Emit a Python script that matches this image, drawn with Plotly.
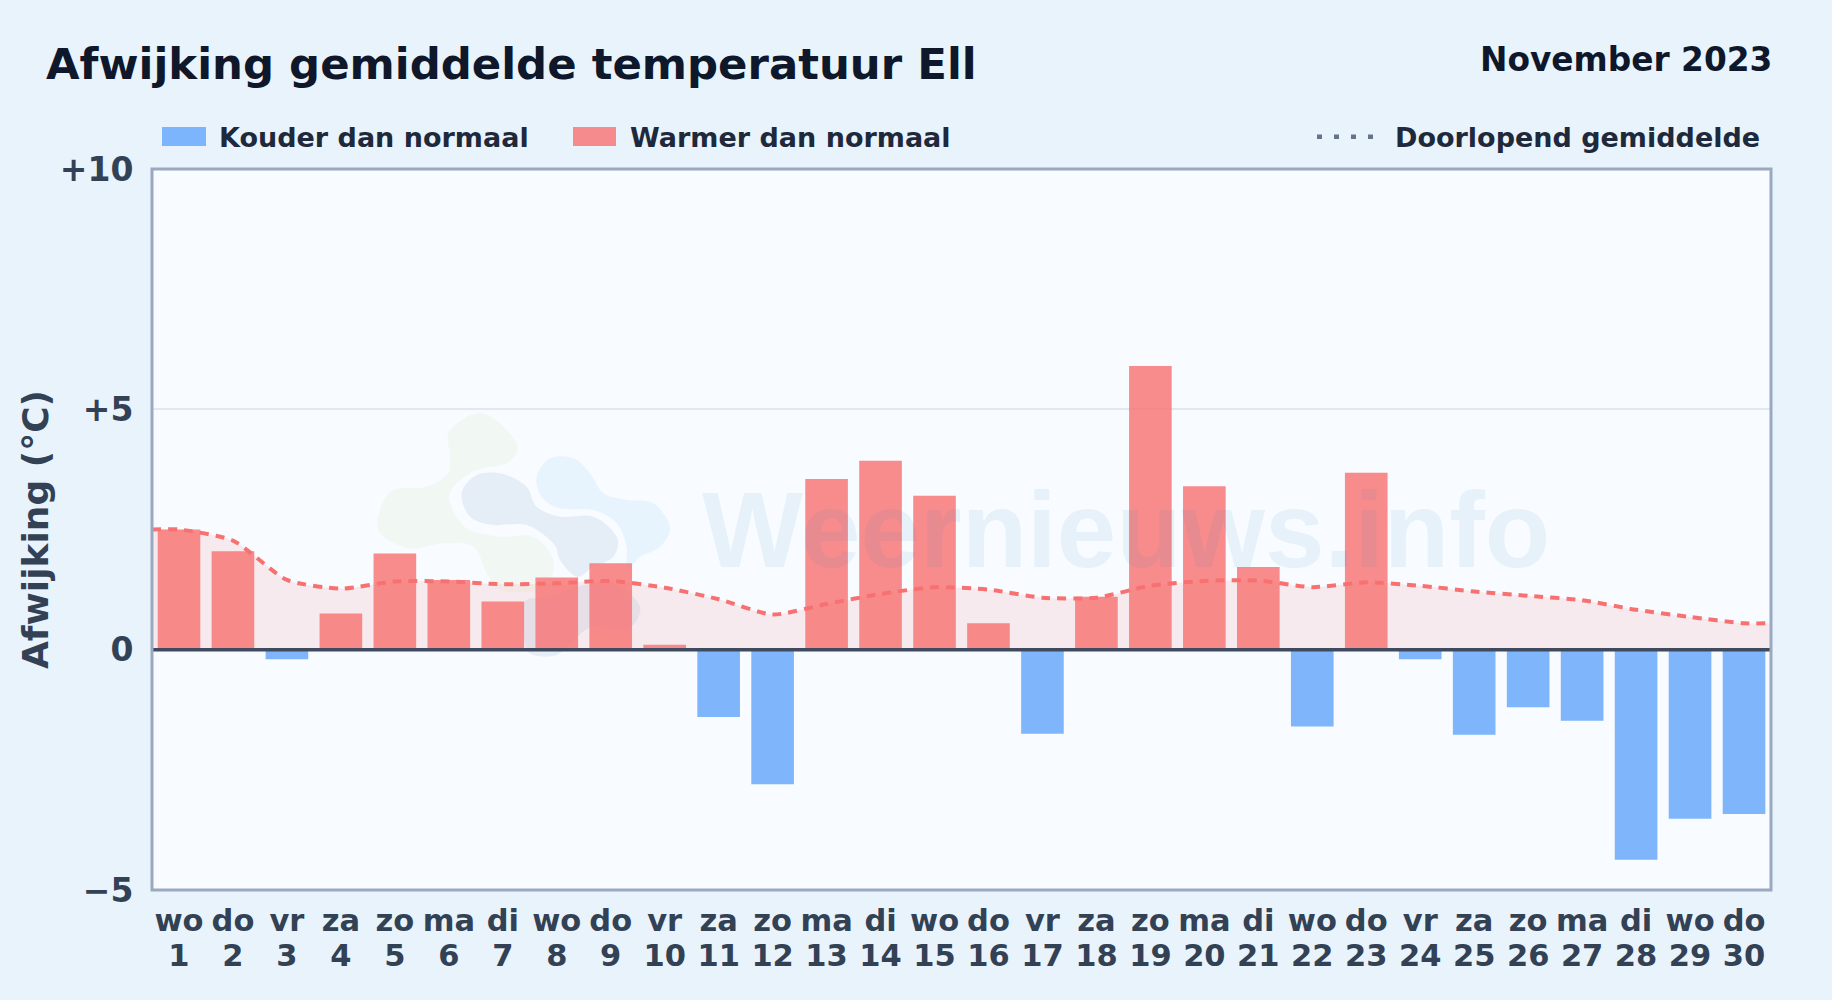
import plotly.graph_objects as go

W, H = 1832, 1000
L, R, T, B = 152, 1771, 169, 890

days = list(range(1, 31))
weekdays = ["wo","do","vr","za","zo","ma","di","wo","do","vr","za","zo","ma","di","wo","do","vr","za","zo","ma","di","wo","do","vr","za","zo","ma","di","wo","do"]
deviation = [2.5,2.05,-0.2,0.75,2.0,1.45,1.0,1.5,1.8,0.1,-1.4,-2.8,3.55,3.93,3.2,0.55,-1.75,1.1,5.9,3.4,1.72,-1.6,3.68,-0.2,-1.77,-1.2,-1.48,-4.37,-3.52,-3.42]
mean_x = [0.5] + days + [30.5]
running_mean = [2.5,2.5,2.27,1.45,1.27,1.42,1.42,1.36,1.38,1.43,1.29,1.05,0.73,0.95,1.16,1.3,1.25,1.08,1.08,1.33,1.43,1.44,1.3,1.4,1.33,1.21,1.12,1.03,0.83,0.68,0.55,0.55]
y_ticks = [-5, 0, 5, 10]
y_labels = ["−5", "0", "+5", "+10"]

FONT = "DejaVu Sans"
BG = "#e8f3fc"
PLOT_BG = "#f8fbff"
BLUE = "rgba(96,165,250,0.8)"
RED = "rgba(248,113,113,0.8)"

def px(x): return (x - L) / (R - L)
def py(y): return (B - y) / (B - T)

def blob(points, ox=360, oy=400, s=3):
    """Smooth closed path through logo outline points (zoom crop coordinates)."""
    p = [(px(ox + a / s), py(oy + b / s)) for a, b in points]
    n = len(p)
    d = f"M{p[0][0]:.5f},{p[0][1]:.5f}"
    for i in range(n):
        p0, p1, p2, p3 = p[i - 1], p[i], p[(i + 1) % n], p[(i + 2) % n]
        c1 = (p1[0] + (p2[0] - p0[0]) / 6, p1[1] + (p2[1] - p0[1]) / 6)
        c2 = (p2[0] - (p3[0] - p1[0]) / 6, p2[1] - (p3[1] - p1[1]) / 6)
        d += f"C{c1[0]:.5f},{c1[1]:.5f} {c2[0]:.5f},{c2[1]:.5f} {p2[0]:.5f},{p2[1]:.5f}"
    return d + "Z"

logo_green = [(270,90),(370,40),(470,130),(440,190),(350,210),(280,260),(270,310),(320,385),(420,410),(520,410),(580,480),(560,560),(500,575),(420,570),(380,520),(340,440),(250,430),(150,445),(60,400),(60,330),(100,270),(200,260),(265,220),(270,170)]
logo_mid = [(305,280),(350,225),(430,222),(500,260),(530,320),(600,350),(700,350),(770,410),(760,470),(700,500),(650,530),(600,480),(580,430),(500,375),(400,375),(330,350)]
logo_low = [(490,610),(560,590),(650,560),(760,550),(840,620),(800,690),(700,680),(640,720),(590,765),(520,765),(495,730)]
logo_light = [(530,230),(570,175),(640,175),(690,220),(730,280),(800,300),(880,310),(930,380),(900,440),(840,470),(800,510),(800,440),(770,370),(700,330),(600,325),(545,290)]

shapes = []
for pts, col in [(logo_green, "rgba(160,210,90,0.07)"), (logo_light, "rgba(90,185,250,0.10)"),
                 (logo_mid, "rgba(40,110,170,0.09)"), (logo_low, "rgba(40,110,170,0.09)")]:
    shapes.append(dict(type="path", xref="paper", yref="paper", path=blob(pts), fillcolor=col,
                       line_width=0, layer="below"))

# legend swatches
for x0, x1, col in [(162, 206, BLUE), (573, 616, RED)]:
    shapes.append(dict(type="rect", xref="paper", yref="paper", x0=px(x0), x1=px(x1), y0=py(146), y1=py(127),
                       fillcolor=col, line_width=0))
shapes.append(dict(type="line", xref="paper", yref="paper", x0=px(1317), x1=px(1375), y0=py(136.7), y1=py(136.7),
                   line=dict(color="#64748b", width=4.5, dash="5px,12px")))
# zero line above bars
shapes.append(dict(type="line", xref="x domain", yref="y", x0=0, x1=1, y0=0, y1=0, layer="above",
                   line=dict(color="#3f4a5e", width=3.5)))
# plot frame, centred on the plot border
shapes.append(dict(type="rect", xref="x domain", yref="y domain", x0=0, x1=1, y0=0, y1=1, layer="above",
                   fillcolor="rgba(0,0,0,0)", line=dict(color="#9aa9bf", width=3)))

def text(x, y, s, size, color, xanchor="left", family=FONT, bold=True):
    return dict(xref="paper", yref="paper", x=px(x), y=py(y), text=f"<b>{s}</b>" if bold else s, showarrow=False,
                xanchor=xanchor, yanchor="middle", align=xanchor, font=dict(family=family, size=size, color=color))

annotations = [
    text(44, 64, "Afwijking gemiddelde temperatuur Ell", 43.4, "#0f172a"),
    text(1774, 60, "November 2023", 32.8, "#0f172a", "right"),
    text(217, 137, "Kouder dan normaal", 27, "#1e293b"),
    text(628, 137, "Warmer dan normaal", 27, "#1e293b"),
    text(1393, 137, "Doorlopend gemiddelde", 27, "#1e293b"),
    text(700, 530, "Weernieuws.info", 107, "rgba(40,130,190,0.08)", family="Liberation Sans"),
]

neg = [(d, v) for d, v in zip(days, deviation) if v < 0]
pos = [(d, v) for d, v in zip(days, deviation) if v >= 0]

fig = go.Figure()
fig.add_trace(go.Scatter(x=mean_x, y=running_mean, mode="none", fill="tozeroy", fillcolor="rgba(248,113,113,0.12)",
                         line=dict(shape="spline", smoothing=0.6), showlegend=False, hoverinfo="skip"))
fig.add_trace(go.Bar(x=[d for d, _ in neg], y=[v for _, v in neg], width=0.79, marker=dict(color=BLUE, line_width=0),
                     name="Kouder dan normaal", showlegend=False))
fig.add_trace(go.Bar(x=[d for d, _ in pos], y=[v for _, v in pos], width=0.79, marker=dict(color=RED, line_width=0),
                     name="Warmer dan normaal", showlegend=False))
fig.add_trace(go.Scatter(x=mean_x, y=running_mean, mode="lines", name="Doorlopend gemiddelde", showlegend=False,
                         line=dict(color="#f87171", width=4, shape="spline", smoothing=0.6, dash="9px,7px")))
# carrier for the second (day number) tick row
fig.add_trace(go.Scatter(x=days, y=[None] * len(days), xaxis="x2", mode="lines", showlegend=False, hoverinfo="skip"))

fig.update_layout(
    width=W, height=H, autosize=False, barmode="overlay",
    margin=dict(l=L, r=W - R, t=T, b=H - B, pad=0),
    paper_bgcolor=BG, plot_bgcolor=PLOT_BG, showlegend=False,
    shapes=shapes, annotations=annotations,
    font=dict(family=FONT, color="#334155"),
    xaxis=dict(range=[0.5, 30.5], tickmode="array", tickvals=days,
               ticktext=[f"<b>{w}</b>" for w in weekdays],
               tickfont=dict(family=FONT, size=30.5, color="#334155"), tickangle=0,
               ticks="outside", ticklen=3, tickcolor="rgba(0,0,0,0)",
               showgrid=False, zeroline=False, showline=False),
    xaxis2=dict(range=[0.5, 30.5], overlaying="x", side="bottom", anchor="y", tickmode="array", tickvals=days,
                ticktext=[f"<b>{d}</b>" for d in days],
                tickfont=dict(family=FONT, size=30.5, color="#334155"), tickangle=0,
                ticks="outside", ticklen=38, tickcolor="rgba(0,0,0,0)",
                showgrid=False, zeroline=False, showline=False),
    yaxis=dict(range=[-5, 10], tickmode="array", tickvals=y_ticks, ticktext=[f"<b>{t}</b>" for t in y_labels],
               tickfont=dict(family=FONT, size=33, color="#334155"),
               ticks="outside", ticklen=11, tickcolor="rgba(0,0,0,0)",
               showgrid=True, gridcolor="#e2e8f0", gridwidth=1.5, zeroline=False, showline=False,
               title=dict(text="<b>Afwijking (°C)</b>", font=dict(family=FONT, size=36, color="#334155"), standoff=0)),
)
fig.write_html("out.html", config={"displayModeBar": False},
               post_script="document.body.style.margin='0';document.body.style.background='#e8f3fc';")
